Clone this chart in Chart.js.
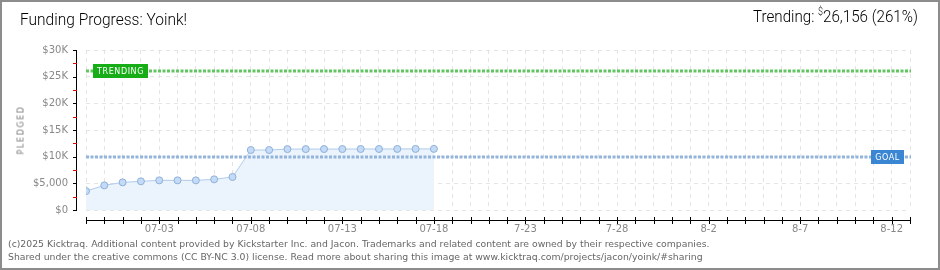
<!DOCTYPE html>
<html>
<head>
<meta charset="utf-8">
<script src="https://cdn.jsdelivr.net/npm/chart.js@4.4.1/dist/chart.umd.min.js"></script>
<style>
  html, body { margin: 0; padding: 0; background: #fff; }
  #frame { position: relative; width: 940px; height: 270px; box-sizing: border-box; border: 2px solid #8c8c8c; overflow: hidden; }
  #c { position: absolute; left: -2px; top: -2px; }
  .txt { position: absolute; white-space: nowrap; color: #000; }
  #title { left: 18px; top: 7px; font: 300 17px Roboto, sans-serif; transform-origin: left top; }
  #trend { right: 20px; top: 4px; font: 300 17px Roboto, sans-serif; transform-origin: right top; }
  #pledged { left: 19px; top: 128px; font: 8px "DejaVu Sans", sans-serif; color: #777; letter-spacing: 1.6px; transform: translate(-50%, -50%) rotate(-90deg); }
  #foot { left: 6px; top: 235px; font: 9.3px "DejaVu Sans", sans-serif; color: #666; line-height: 13px; }
</style>
</head>
<body>
<div id="frame">
  <canvas id="c" width="940" height="270"></canvas>
  <div class="txt" id="title">Funding Progress: Yoink!</div>
  <div class="txt" id="trend">Trending: <sup style="font-size:10px">$</sup>26,156 (261%)</div>
  <div class="txt" id="pledged">PLEDGED</div>
  <div class="txt" id="foot">(c)2025 Kicktraq. Additional content provided by Kickstarter Inc. and Jacon. Trademarks and related content are owned by their respective companies.<br>Shared under the creative commons (CC BY-NC 3.0) license. Read more about sharing this image at www.kicktraq.com/projects/jacon/yoink/#sharing</div>
</div>
<script>
// days since 06-29 (campaign start), campaign ends 08-13 (day 45)
var days = [0,1,2,3,4,5,6,7,8,9,10,11,12,13,14,15,16,17,18,19];
var pledged = [3550,4620,5180,5380,5560,5560,5560,5750,6190,11250,11250,11420,11420,11430,11430,11440,11440,11450,11450,11460];
var tickLabels = ['07-03','07-08','07-13','07-18','7-23','7-28','8-2','8-7','8-12'];
var goal = 10000;
var trending = 26156;
var lastDay = 45;

// squeeze the header texts to the widths of the original
function fitWidth(id, w) {
  var el = document.getElementById(id);
  el.style.transform = 'scaleX(' + (w / el.offsetWidth) + ')';
}
fitWidth('title', 167);
fitWidth('trend', 165);

var points = days.map(function(d, i){ return {x: d, y: pledged[i]}; });

var overlay = {
  id: 'overlay',
  afterDraw: function(chart) {
    var c = chart.ctx, a = chart.chartArea;
    var xs = chart.scales.x, ys = chart.scales.y;
    c.save();
    // y axis
    var ax = Math.round(a.left) - 10;
    c.lineWidth = 1;
    c.strokeStyle = '#000';
    c.beginPath(); c.moveTo(ax + 0.5, a.top); c.lineTo(ax + 0.5, a.bottom + 1); c.stroke();
    for (var v = 0; v <= 30000; v += 2500) {
      var py = Math.round(ys.getPixelForValue(v));
      c.fillStyle = (v % 5000 === 0) ? '#000' : '#e00';
      c.fillRect(ax - 3, py, 4, 1);
    }
    // x axis
    var ay = Math.round(a.bottom) + 10;
    c.fillStyle = '#000';
    var x0 = Math.round(xs.getPixelForValue(0)), x1 = Math.round(xs.getPixelForValue(lastDay));
    c.fillRect(x0, ay, x1 - x0 + 1, 1);
    for (var d = 0; d <= lastDay; d++) {
      var px = Math.round(xs.getPixelForValue(d));
      c.fillRect(px, ay - 3, 1, 7);
    }
    // goal + trending lines
    function refLine(val, col) {
      var py = Math.round(ys.getPixelForValue(val));
      c.strokeStyle = col; c.lineWidth = 3; c.setLineDash([3, 1.5]);
      c.beginPath(); c.moveTo(x0, py); c.lineTo(a.right + 1, py); c.stroke();
      c.setLineDash([]);
      return py;
    }
    var ty = refLine(trending, '#62c562');
    var gy = refLine(goal, '#93b5dc');
    function badge(x, y, w, fill, text) {
      c.fillStyle = fill;
      c.fillRect(x, y - 7, w, 14);
      c.fillStyle = '#fff';
      c.font = '8px "DejaVu Sans", sans-serif';
      c.letterSpacing = '0.6px';
      c.textAlign = 'center'; c.textBaseline = 'middle';
      c.fillText(text, x + w / 2, y + 0.5);
    }
    badge(x0 + 7, ty, 55, '#16ad16', 'TRENDING');
    badge(Math.round(a.right) - 39, gy, 33, '#3a86d2', 'GOAL');
    c.restore();
  }
};

new Chart(document.getElementById('c'), {
  type: 'line',
  data: {
    datasets: [{
      data: points,
      borderColor: '#b0ccec',
      borderWidth: 1,
      backgroundColor: '#ebf3fc',
      fill: 'origin',
      pointRadius: 3.5,
      pointBackgroundColor: '#c3dbf6',
      pointBorderColor: '#8fb0d8',
      pointBorderWidth: 1,
      tension: 0
    }]
  },
  options: {
    responsive: false,
    animation: false,
    layout: { padding: { top: 50, right: 30, left: 0, bottom: 0 } },
    plugins: { legend: { display: false }, tooltip: { enabled: false } },
    scales: {
      x: {
        type: 'linear', min: 0, max: lastDay,
        afterFit: function(s){ s.height = 60; },
        border: { display: false, dash: [4, 4] },
        grid: { color: '#e4e4e4', drawTicks: false },
        ticks: {
          stepSize: 1, autoSkip: false, maxRotation: 0, padding: 13,
          color: '#888', font: { family: 'DejaVu Sans', size: 10 },
          callback: function(v){ return (v % 5 === 4) ? tickLabels[(v - 4) / 5] : ''; }
        }
      },
      y: {
        min: 0, max: 30000,
        afterFit: function(s){ s.width = 86; },
        border: { display: false, dash: [4, 4] },
        grid: {
          drawTicks: false,
          color: function(ctx){ return (ctx.tick && ctx.tick.value % 5000 === 0) ? '#e4e4e4' : 'rgba(0,0,0,0)'; }
        },
        ticks: {
          stepSize: 2500, padding: 18, autoSkip: false,
          color: '#888', font: { family: 'DejaVu Sans', size: 10 },
          callback: function(v){
            if (v % 5000 !== 0) return '';
            if (v === 0) return '$0';
            if (v === 5000) return '$5,000';
            return '$' + (v / 1000) + 'K';
          }
        }
      }
    }
  },
  plugins: [overlay]
});
</script>
</body>
</html>
